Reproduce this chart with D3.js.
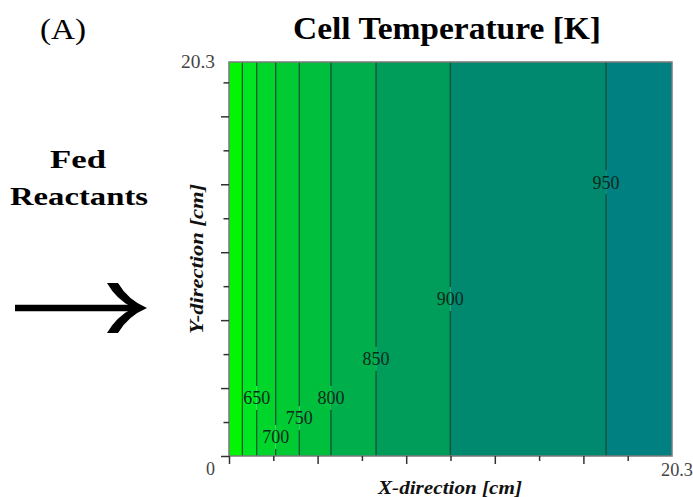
<!DOCTYPE html>
<html>
<head>
<meta charset="utf-8">
<script src="https://cdn.jsdelivr.net/npm/d3@7"></script>
<style>
  html, body { margin: 0; padding: 0; background: #fff; }
  svg { display: block; }
  text { font-family: "Liberation Serif", "Times New Roman", serif; }
</style>
</head>
<body>
<svg id="chart" width="693" height="497"></svg>
<script>
// Isotherm levels [K] and where each crosses the cell along X [cm]
const levels = [600, 650, 700, 750, 800, 850, 900, 950];
const levelX = [0.61, 1.27, 2.14, 3.22, 4.67, 6.74, 10.14, 17.28];
// Height [cm] at which each isotherm carries its label (null = unlabeled)
const labelY = [null, 2.99, 0.98, 1.96, 2.99, 5.0, 8.09, 14.1];
// Cell extent [cm]
const xDomain = [0, 20.3];
const yDomain = [0, 20.3];
const xTickStep = 2.03;
const yTickStep = 1.75;
const xTickLabels = ["0", "20.3"];
const yTickLabels = ["0", "20.3"];

// Fill colours of the bands between isotherms (coolest to hottest)
const bandColors = ["#03f503", "#00e622", "#00d52c", "#00cb33", "#00bf3c",
                    "#00ae4b", "#009c5a", "#00896e", "#008080"];

const svg = d3.select("#chart");
const plot = { left: 229, right: 672, top: 62, bottom: 456 };

const x = d3.scaleLinear().domain(xDomain).range([plot.left, plot.right]);
const y = d3.scaleLinear().domain(yDomain).range([plot.bottom, plot.top]);

// Temperature bands
const edges = [xDomain[0], ...levelX, xDomain[1]];
const bands = d3.pairs(edges).map((p, i) => ({ x0: p[0], x1: p[1], color: bandColors[i] }));
svg.append("g").selectAll("rect").data(bands).join("rect")
  .attr("x", d => x(d.x0))
  .attr("width", d => x(d.x1) - x(d.x0))
  .attr("y", y(yDomain[1]))
  .attr("height", y(yDomain[0]) - y(yDomain[1]))
  .attr("fill", d => d.color);

// Isotherm lines, broken where the label sits
const gap = 12;
const iso = levels.map((v, i) => ({ v, x: levelX[i], ly: labelY[i] }));
const lines = svg.append("g").attr("stroke", "#10402a").attr("stroke-width", 1.1);
iso.forEach(d => {
  const px = x(d.x);
  if (d.ly == null) {
    lines.append("line").attr("x1", px).attr("x2", px)
      .attr("y1", y(yDomain[0])).attr("y2", y(yDomain[1]));
  } else {
    const py = y(d.ly);
    lines.append("line").attr("x1", px).attr("x2", px)
      .attr("y1", y(yDomain[1])).attr("y2", py - gap);
    lines.append("line").attr("x1", px).attr("x2", px)
      .attr("y1", py + gap).attr("y2", y(yDomain[0]));
  }
});
svg.append("g").selectAll("text").data(iso.filter(d => d.ly != null)).join("text")
  .attr("x", d => x(d.x))
  .attr("y", d => y(d.ly))
  .attr("dy", "0.35em")
  .attr("text-anchor", "middle")
  .attr("font-size", 18)
  .attr("fill", "#0c2a1c")
  .text(d => d.v);

// Frame
svg.append("rect")
  .attr("x", plot.left).attr("y", plot.top)
  .attr("width", plot.right - plot.left).attr("height", plot.bottom - plot.top)
  .attr("fill", "none").attr("stroke", "#7a7a7a").attr("stroke-width", 1.5);

// Axes: major/minor ticks alternate
const xTicks = d3.range(0, 10).map(i => i * xTickStep);
const yTicks = d3.range(0, 12).map(i => i * yTickStep);

const xAxis = svg.append("g").attr("transform", `translate(0,${plot.bottom})`)
  .call(d3.axisBottom(x).tickValues(xTicks).tickFormat("").tickSizeOuter(0).tickSize(8));
xAxis.select(".domain").remove();
xAxis.selectAll(".tick line")
  .attr("y2", (d, i) => i % 2 === 0 ? 8 : 5)
  .attr("stroke", "#333").attr("stroke-width", 1.5);

const yAxis = svg.append("g").attr("transform", `translate(${plot.left},0)`)
  .call(d3.axisLeft(y).tickValues(yTicks).tickFormat("").tickSizeOuter(0).tickSize(8));
yAxis.select(".domain").remove();
yAxis.selectAll(".tick line")
  .attr("x2", (d, i) => i % 2 === 0 ? -8 : -5.5)
  .attr("stroke", "#333").attr("stroke-width", 1.5);

// End-point labels
const tickFont = 18, tickColor = "#444";
svg.append("text").attr("x", plot.left - 14).attr("y", plot.bottom + 19)
  .attr("text-anchor", "end").attr("font-size", tickFont).attr("fill", tickColor)
  .text(yTickLabels[0]);
svg.append("text").attr("x", plot.left - 14).attr("y", y(yDomain[1]) + 6)
  .attr("text-anchor", "end").attr("font-size", tickFont).attr("fill", tickColor)
  .attr("textLength", 34).attr("lengthAdjust", "spacingAndGlyphs")
  .text(yTickLabels[1]);
svg.append("text").attr("x", 677).attr("y", plot.bottom + 20)
  .attr("text-anchor", "middle").attr("font-size", tickFont).attr("fill", tickColor)
  .attr("textLength", 32).attr("lengthAdjust", "spacingAndGlyphs")
  .text(xTickLabels[1]);

// Axis titles
svg.append("text").attr("x", 450).attr("y", 494)
  .attr("text-anchor", "middle").attr("font-size", 18)
  .attr("font-weight", "bold").attr("font-style", "italic").attr("fill", "#111")
  .attr("textLength", 144).attr("lengthAdjust", "spacingAndGlyphs")
  .text("X-direction [cm]");
svg.append("text")
  .attr("transform", `translate(203,259) rotate(-90)`)
  .attr("text-anchor", "middle").attr("font-size", 18)
  .attr("font-weight", "bold").attr("font-style", "italic").attr("fill", "#111")
  .attr("textLength", 150).attr("lengthAdjust", "spacingAndGlyphs")
  .text("Y-direction [cm]");

// Title and panel tag
svg.append("text").attr("x", 447).attr("y", 39)
  .attr("text-anchor", "middle").attr("font-size", 31).attr("font-weight", "bold")
  .attr("fill", "#000")
  .attr("textLength", 308).attr("lengthAdjust", "spacingAndGlyphs")
  .text("Cell Temperature [K]");
svg.append("text").attr("x", 40).attr("y", 39)
  .attr("font-size", 29).attr("fill", "#000")
  .attr("textLength", 46).attr("lengthAdjust", "spacingAndGlyphs")
  .text("(A)");

// Inlet annotation
svg.append("text").attr("x", 78).attr("y", 168)
  .attr("text-anchor", "middle").attr("font-size", 26).attr("font-weight", "bold")
  .attr("textLength", 56).attr("lengthAdjust", "spacingAndGlyphs")
  .text("Fed");
svg.append("text").attr("x", 79).attr("y", 205)
  .attr("text-anchor", "middle").attr("font-size", 26).attr("font-weight", "bold")
  .attr("textLength", 138).attr("lengthAdjust", "spacingAndGlyphs")
  .text("Reactants");

svg.append("line").attr("x1", 15).attr("x2", 136).attr("y1", 308).attr("y2", 308)
  .attr("stroke", "#000").attr("stroke-width", 6.5);
svg.append("path")
  .attr("d", "M107,283 L118,283 Q128,300 147,308 Q128,316 118,333 L107,333 Q116,317 133,308 Q116,299 107,283 Z")
  .attr("fill", "#000");
</script>
</body>
</html>
